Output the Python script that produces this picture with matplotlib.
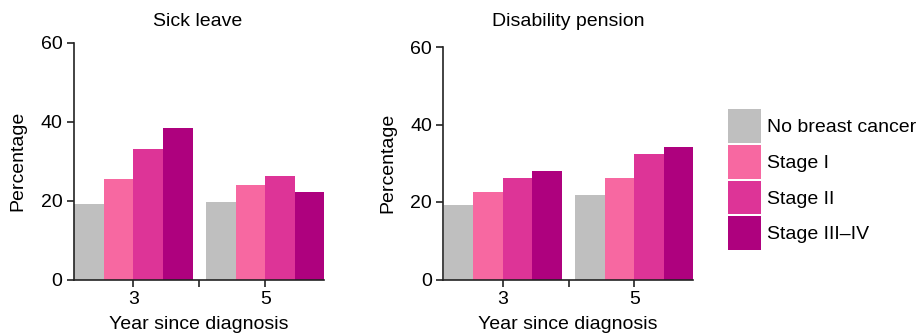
import numpy as np
import matplotlib.pyplot as plt
from matplotlib.ticker import FixedLocator

plt.rcParams['font.family'] = ['Liberation Sans', 'DejaVu Sans']
plt.rcParams['font.size'] = 14

years = ['3', '5']
groups = ['No breast cancer', 'Stage I', 'Stage II', 'Stage III\u2013IV']
cols = ['#bfbfbf', '#f768a1', '#dd3497', '#ae017e']

# percentage per group, one row per year since diagnosis
sick_leave = np.array([[19.1, 25.4, 33.0, 38.3],
                       [19.6, 23.9, 26.2, 22.1]])
disability = np.array([[19.2, 22.5, 26.1, 27.9],
                       [21.7, 26.1, 32.3, 34.1]])


def grouped_bars(ax, data):
    bar_width = 0.225
    r = np.arange(len(years))
    for ind in range(len(groups)):
        offset = (ind - 1.5) * bar_width
        ax.bar(r + offset, data[:, ind], width=bar_width, color=cols[ind], label=groups[ind], zorder=1)
    ax.set_xlim(-0.455, 1.445)
    ax.set_ylim(0, 60)
    ax.set_yticks([0, 20, 40, 60])
    ax.set_xticks(r)
    ax.set_xticklabels(years)
    ax.xaxis.set_minor_locator(FixedLocator([0.5]))
    ax.tick_params(which='both', direction='out', length=5, width=1.2, color='#222222', pad=3)
    ax.set_ylabel('Percentage', labelpad=10)
    ax.set_xlabel('Year since diagnosis', labelpad=6)
    for side in ['top', 'right']:
        ax.spines[side].set_visible(False)
    for side in ['left', 'bottom']:
        ax.spines[side].set_linewidth(1.2)
        ax.spines[side].set_color('#222222')
        ax.spines[side].set_zorder(3)
    return ax


fig = plt.figure(figsize=(9.24, 3.33), dpi=100)
ax1 = fig.add_axes([73.5 / 924, 1 - 279.5 / 333, 250.5 / 924, 237 / 333])
ax2 = fig.add_axes([443 / 924, 1 - 279.5 / 333, 250 / 924, 232.5 / 333])

grouped_bars(ax1, sick_leave)
grouped_bars(ax2, disability)

fig.text(198 / 924, 1 - 22 / 333, 'Sick leave', ha='center', va='center')
fig.text(568 / 924, 1 - 22 / 333, 'Disability pension', ha='center', va='center')

handles, labels = ax1.get_legend_handles_labels()
fig.legend(handles, labels, loc='upper left', bbox_to_anchor=(728 / 924, 1 - 109 / 333), frameon=False,
           borderpad=0, borderaxespad=0, handlelength=1.7, handleheight=2.3, labelspacing=0.1,
           handletextpad=0.3, fontsize=14)

plt.savefig('out.png', dpi=100)
plt.close()
